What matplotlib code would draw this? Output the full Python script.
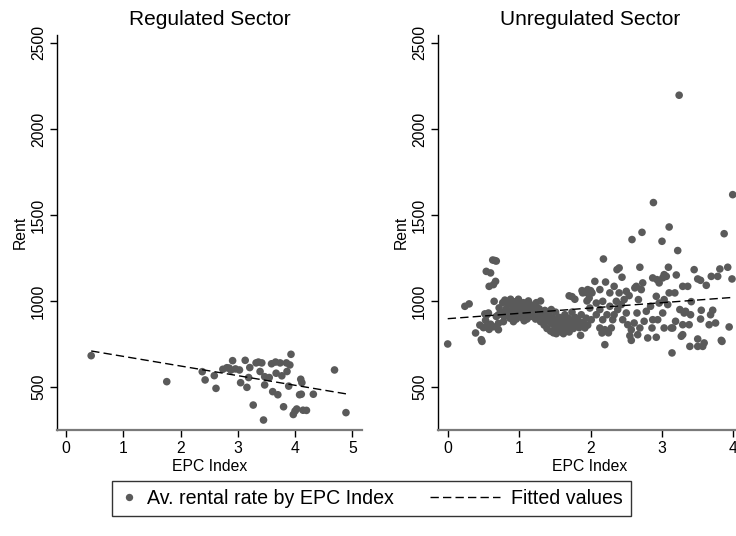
import numpy as np
import matplotlib
matplotlib.use("Agg")
import matplotlib.pyplot as plt
from matplotlib.lines import Line2D
from matplotlib.legend_handler import HandlerLine2D

plt.rcParams['font.family'] = ['Liberation Sans', 'DejaVu Sans']

# ---------------- data ----------------
# Regulated sector: average rent by EPC index
reg_epc = [0.44, 1.76, 2.38, 2.43, 2.59, 2.62, 2.74, 2.81, 2.91, 2.88, 2.96, 3.03,
           3.05, 3.13, 3.16, 3.19, 3.21, 3.27, 3.32, 3.42, 3.39, 3.45, 3.47, 3.47,
           3.55, 3.59, 3.61, 3.66, 3.67, 3.70, 3.74, 3.77, 3.80, 3.85, 3.86, 3.89,
           3.91, 3.93, 3.97, 4.00, 4.03, 4.10, 4.12, 4.08, 4.11, 4.14, 4.20, 4.32,
           4.69, 4.89, 2.85, 3.36]
reg_rent = [682, 531, 589, 541, 566, 492, 603, 612, 653, 598, 605, 599,
            525, 655, 498, 555, 613, 395, 640, 640, 590, 308, 560, 512,
            555, 635, 473, 645, 580, 455, 640, 565, 385, 640, 590, 505,
            628, 690, 340, 360, 372, 545, 525, 455, 458, 365, 364, 458,
            599, 351, 610, 645]

# Unregulated sector: average rent by EPC index
unreg_epc = [
    0.00, 0.24, 0.30, 0.39, 0.47, 0.48, 0.45, 0.50, 0.53, 0.58, 0.60, 0.64, 0.71,
    0.52, 0.57, 0.55, 0.53, 0.65, 0.68, 0.71, 0.54, 0.60, 0.63, 0.66, 0.68, 0.67,
    0.64, 0.58, 0.71,
    0.72, 0.75, 0.77, 0.79, 0.80, 0.82, 0.84, 0.85, 0.87, 0.88, 0.90, 0.91, 0.93,
    0.94, 0.96, 0.97, 0.99, 1.00, 1.02, 1.03, 1.05, 1.06, 1.08, 1.10, 1.11, 1.13,
    1.14, 1.16, 1.18, 1.19, 1.21, 1.23, 1.24, 1.26, 1.28, 1.30, 1.31, 0.78, 0.92,
    1.07, 0.86, 1.01, 1.15,
    1.30, 1.33, 1.35, 1.37, 1.39, 1.40, 1.42, 1.44, 1.45, 1.47, 1.48, 1.50, 1.51,
    1.53, 1.55, 1.56, 1.58, 1.59, 1.61, 1.63, 1.64, 1.66, 1.68, 1.69, 1.71, 1.73,
    1.74, 1.76, 1.78, 1.80, 1.82, 1.84, 1.86, 1.87, 1.89, 1.92, 1.94, 1.96, 1.45,
    1.36, 1.52, 1.62, 1.70, 1.70, 1.74, 1.78, 1.88, 1.92, 1.98, 1.95, 2.00,
    2.06, 2.13, 2.18, 2.21, 2.20, 2.16, 2.29, 2.27, 2.33, 2.37, 2.40, 2.44, 2.40,
    2.50, 2.54, 2.62, 2.58, 2.01, 2.08, 2.13, 2.17, 2.23, 2.27, 2.33, 2.36, 2.38,
    2.45, 2.50, 2.52, 2.57, 2.55, 2.57, 2.61, 2.17, 2.08, 2.13, 2.20, 2.25, 1.99,
    1.98, 2.02, 1.96, 1.89, 2.31, 2.43, 2.47,
    2.69, 2.72, 2.88, 3.00, 3.09, 3.10, 2.67, 2.65, 2.64, 2.71, 2.73, 2.78, 2.80,
    2.86, 2.92, 2.94, 2.87, 2.93, 2.96, 3.01, 3.03, 3.06, 2.92, 2.96, 3.01, 3.03,
    2.84, 2.87, 2.75, 2.69, 2.66, 3.03, 3.08, 3.13, 3.15, 3.19, 3.14, 3.10, 3.18,
    3.20,
    3.24, 3.22, 3.45, 3.29, 3.36, 3.41, 3.25, 3.33, 3.40, 3.29, 3.27, 3.39, 3.50,
    3.54, 3.55, 3.54, 3.50, 3.57, 3.50, 3.62, 3.69, 3.78, 3.71, 3.68, 3.75, 3.66,
    3.83, 3.84, 3.81, 3.92, 3.87, 3.98, 3.94, 3.99, 3.59, 3.31, 3.38, 3.29,
]
unreg_rent = [
    750, 969, 983, 814, 775, 765, 860, 845, 850, 835, 865, 850, 833,
    925, 930, 920, 888, 998, 910, 920, 1172, 1163, 1238, 1235, 1232, 1114,
    1095, 1085, 870,
    960, 935, 990, 910, 1005, 955, 925, 985, 900, 1010, 945, 970, 920,
    995, 895, 955, 1010, 935, 975, 905, 950, 990, 920, 965, 895, 1000,
    940, 910, 975, 930, 960, 895, 990, 920, 955, 1000, 905, 880, 880,
    885, 940, 960, 955,
    880, 930, 860, 905, 840, 885, 920, 825, 870, 900, 815, 850, 935,
    880, 830, 905, 860, 820, 890, 845, 920, 870, 830, 900, 855, 880,
    935, 840, 905, 865, 890, 845, 800, 920, 875, 843, 900, 860, 950,
    945, 810, 810, 820, 1030, 1025, 1010, 1060, 1050, 1040, 1000, 1060,
    1114, 1066, 1244, 1110, 746, 814, 843, 1047, 1085, 1182, 1192, 1138, 1047,
    1056, 1031, 1076, 1357, 891, 920, 950, 891, 920, 969, 920, 998, 950,
    891, 930, 862, 833, 798, 771, 872, 998, 988, 843, 833, 815, 959,
    1017, 1047, 1066, 1047, 891, 979, 1008,
    1196, 1399, 1572, 1347, 1196, 1430, 1008, 930, 1085, 1066, 1105, 940, 785,
    843, 789, 891, 1134, 1124, 1105, 1134, 1153, 1143, 1027, 988, 930, 843,
    969, 891, 882, 843, 804, 1008, 979, 843, 843, 882, 698, 1047, 1047,
    1151,
    2196, 1293, 1182, 1085, 1085, 996, 950, 940, 920, 804, 795, 736, 1128,
    1120, 946, 895, 736, 736, 779, 1091, 1143, 1143, 946, 920, 872, 862,
    771, 765, 1186, 1196, 1391, 1128, 849, 1618, 756, 930, 862, 862,
]

# OLS fitted lines (intercept, slope)
reg_fit = (734.0, -56.0)
unreg_fit = (897.0, 31.0)

panel_titles = ["Regulated Sector", "Unregulated Sector"]
y_ticks = [500, 1000, 1500, 2000, 2500]
x_ticks = [0, 1, 2, 3, 4, 5]

# ---------------- style ----------------
dot_color = "#5a5a5a"
W, H = 736, 536
fig = plt.figure(figsize=(W / 100, H / 100), dpi=100)


def px_axes(x0, x1, ytop, ybot):
    return fig.add_axes([x0 / W, 1 - ybot / H, (x1 - x0) / W, (ybot - ytop) / H])


ax_l = px_axes(57, 362, 35, 430)
ax_r = px_axes(438, 742, 35, 430)

panels = [
    (ax_l, reg_epc, reg_rent, reg_fit, (-0.157, 5.17)),
    (ax_r, unreg_epc, unreg_rent, unreg_fit, (-0.136, 4.12)),
]

for (ax, xs, ys, fit, xlim), title in zip(panels, panel_titles):
    xs = np.asarray(xs)
    ys = np.asarray(ys)
    ax.scatter(xs, ys, s=30, color=dot_color, edgecolors="none", zorder=2)
    xf = np.array([xs.min(), xs.max()])
    ln, = ax.plot(xf, fit[0] + fit[1] * xf, color="black", lw=1.0, zorder=3)
    ln.set_dashes((6, 3))
    ax.set_xlim(*xlim)
    ax.set_ylim(250, 2546)
    ax.set_xticks([t for t in x_ticks if xlim[0] <= t <= xlim[1] + 0.01])
    ax.set_yticks(y_ticks)
    for lab in ax.get_yticklabels():
        lab.set_rotation(90)
        lab.set_va("center")
    ax.tick_params(axis="both", direction="out", length=5, width=1,
                   color="black", labelsize=11.3, pad=3)
    ax.set_xlabel("EPC Index", fontsize=11.3, labelpad=2)
    ax.set_ylabel("Rent", fontsize=11.3, labelpad=2)
    ax.set_title(title, fontsize=15, pad=7)
    ax.spines["top"].set_visible(False)
    ax.spines["right"].set_visible(False)
    ax.spines["left"].set_color("black")
    ax.spines["left"].set_linewidth(1.0)
    ax.spines["bottom"].set_color("#7a7a7a")
    ax.spines["bottom"].set_linewidth(1.6)


class LongDashHandler(HandlerLine2D):
    """Draws the dashed legend sample longer than the common handle box."""

    def create_artists(self, legend, orig_handle, xdescent, ydescent,
                       width, height, fontsize, trans):
        length = 50.0
        y = height / 2.0 - ydescent
        x1 = width - xdescent
        line = Line2D([x1 - length, x1], [y, y], color="black", lw=1.0)
        line.set_dashes((6, 3))
        line.set_transform(trans)
        return [line]


dot_handle = Line2D([], [], ls="none", marker="o", markersize=5.3,
                    markerfacecolor=dot_color, markeredgecolor="none")
fit_handle = Line2D([], [], color="black", lw=1.0, ls="--")

leg = fig.legend([dot_handle, fit_handle],
                 ["Av. rental rate by EPC Index", "Fitted values"],
                 handler_map={fit_handle: LongDashHandler()},
                 loc="center", bbox_to_anchor=(371.5 / W, 1 - 498.5 / H),
                 ncol=2, fontsize=14.1, frameon=True, fancybox=False,
                 handlelength=0.8, handletextpad=0.55, columnspacing=4.6,
                 borderpad=0.42, borderaxespad=0)
leg.get_frame().set_edgecolor("black")
leg.get_frame().set_linewidth(1.0)

fig.savefig("out.png", dpi=100)
